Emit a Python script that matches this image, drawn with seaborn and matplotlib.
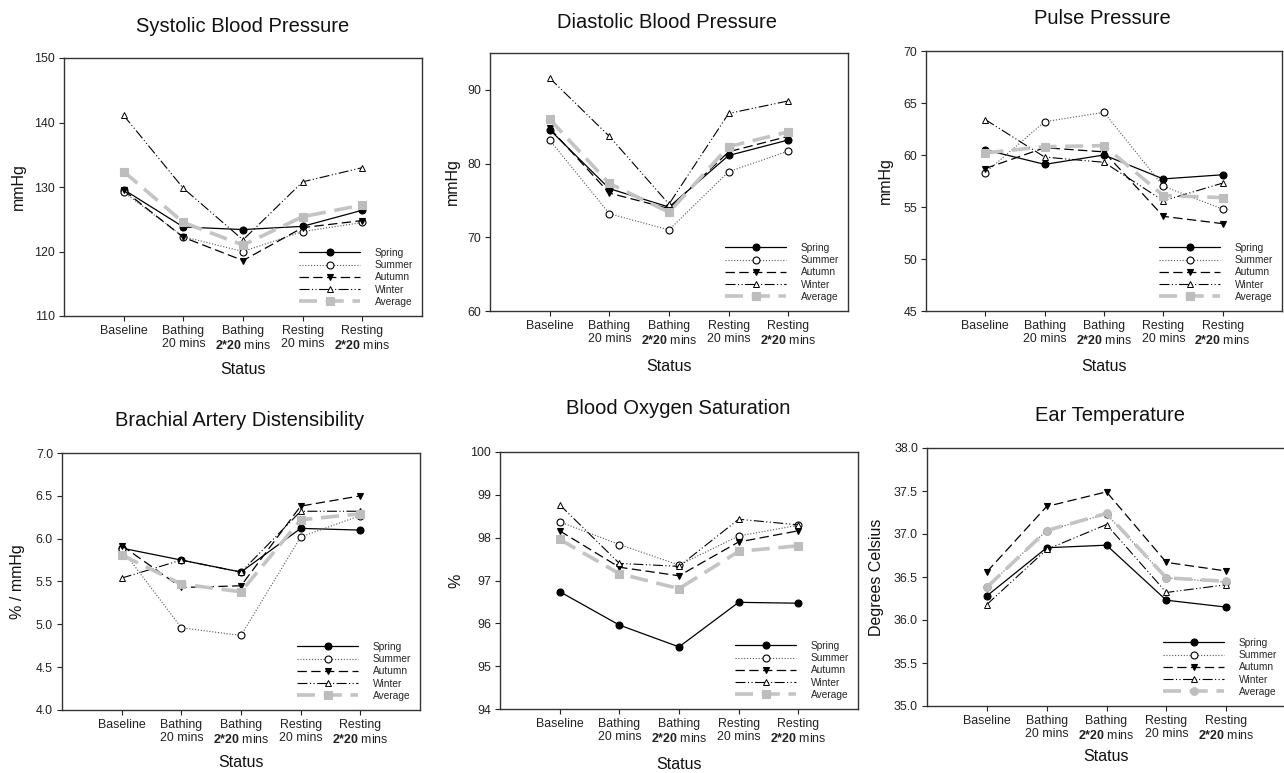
import numpy as np
import pandas as pd
import matplotlib
matplotlib.use("Agg")
import matplotlib.pyplot as plt
import seaborn as sns

sns.set_theme(style="ticks")
plt.rcParams['font.family'] = ['Liberation Sans', 'DejaVu Sans']
plt.rcParams['mathtext.fontset'] = 'custom'
plt.rcParams['mathtext.rm'] = 'Liberation Sans'
plt.rcParams['mathtext.bf'] = 'Liberation Sans:bold'
plt.rcParams['axes.edgecolor'] = '#222222'
plt.rcParams['axes.linewidth'] = 1.0

# ---------------- data ----------------
status_labels = ["Baseline", "Bathing\n20 mins", "Bathing\n$\\mathbf{2{*}20}$ mins",
                 "Resting\n20 mins", "Resting\n$\\mathbf{2{*}20}$ mins"]
seasons = ["Spring", "Summer", "Autumn", "Winter", "Average"]

# Systolic Blood Pressure (mmHg)
sbp_spring = [129.6, 123.8, 123.4, 123.9, 126.4]
sbp_summer = [129.2, 122.3, 120.0, 123.1, 124.5]
sbp_autumn = [129.5, 122.2, 118.6, 123.7, 124.8]
sbp_winter = [141.1, 129.8, 121.8, 130.8, 133.0]
sbp_average = [132.4, 124.5, 121.0, 125.4, 127.2]

# Diastolic Blood Pressure (mmHg)
dbp_spring = [84.6, 76.6, 74.1, 81.1, 83.2]
dbp_summer = [83.2, 73.2, 71.0, 78.9, 81.7]
dbp_autumn = [84.8, 76.0, 73.9, 81.6, 83.7]
dbp_winter = [91.6, 83.7, 74.5, 86.8, 88.5]
dbp_average = [86.0, 77.3, 73.4, 82.3, 84.3]

# Pulse Pressure (mmHg)
pp_spring = [60.5, 59.1, 60.0, 57.7, 58.1]
pp_summer = [58.3, 63.2, 64.1, 57.0, 54.8]
pp_autumn = [58.7, 60.7, 60.3, 54.1, 53.4]
pp_winter = [63.4, 59.8, 59.3, 55.6, 57.3]
pp_average = [60.2, 60.8, 60.9, 56.1, 55.9]

# Brachial Artery Distensibility (% / mmHg)
bad_spring = [5.89, 5.75, 5.61, 6.12, 6.10]
bad_summer = [5.88, 4.96, 4.87, 6.02, 6.27]
bad_autumn = [5.92, 5.43, 5.45, 6.38, 6.50]
bad_winter = [5.54, 5.75, 5.61, 6.32, 6.32]
bad_average = [5.81, 5.47, 5.38, 6.22, 6.29]

# Blood Oxygen Saturation (%)
spo2_spring = [96.74, 95.96, 95.45, 96.49, 96.47]
spo2_summer = [98.37, 97.84, 97.36, 98.04, 98.29]
spo2_autumn = [98.16, 97.31, 97.11, 97.90, 98.16]
spo2_winter = [98.77, 97.40, 97.33, 98.43, 98.30]
spo2_average = [97.96, 97.16, 96.81, 97.68, 97.81]

# Ear Temperature (Degrees Celsius)
ear_spring = [36.28, 36.84, 36.87, 36.23, 36.15]
ear_summer = [36.38, 37.04, 37.23, 36.49, 36.44]
ear_autumn = [36.56, 37.32, 37.49, 36.67, 36.57]
ear_winter = [36.18, 36.82, 37.11, 36.32, 36.41]
ear_average = [36.38, 37.04, 37.24, 36.49, 36.45]

panels = [
    ("Systolic Blood Pressure", "mmHg",
     [sbp_spring, sbp_summer, sbp_autumn, sbp_winter, sbp_average], (110, 150), [110, 120, 130, 140, 150]),
    ("Diastolic Blood Pressure", "mmHg",
     [dbp_spring, dbp_summer, dbp_autumn, dbp_winter, dbp_average], (60, 95), [60, 70, 80, 90]),
    ("Pulse Pressure", "mmHg",
     [pp_spring, pp_summer, pp_autumn, pp_winter, pp_average], (45, 70), [45, 50, 55, 60, 65, 70]),
    ("Brachial Artery Distensibility", "% / mmHg",
     [bad_spring, bad_summer, bad_autumn, bad_winter, bad_average], (4.0, 7.0), [4.0, 4.5, 5.0, 5.5, 6.0, 6.5, 7.0]),
    ("Blood Oxygen Saturation", "%",
     [spo2_spring, spo2_summer, spo2_autumn, spo2_winter, spo2_average], (94, 100), [94, 95, 96, 97, 98, 99, 100]),
    ("Ear Temperature", "Degrees Celsius",
     [ear_spring, ear_summer, ear_autumn, ear_winter, ear_average], (35.0, 38.0), [35.0, 35.5, 36.0, 36.5, 37.0, 37.5, 38.0]),
]

# ---------------- layout (pixels) ----------------
W, H = 1284, 773
# (left, top, right, bottom) of each axes in pixels
boxes = [(64, 58, 422, 316), (490, 53, 848, 311), (926, 51, 1282, 311),
         (62, 453, 420, 710), (500, 452, 858, 709), (927, 448, 1286, 706)]
title_pos = [(243, 27), (667, 23), (1102, 19), (240, 420), (678, 408), (1110, 415)]
ylabel_x = [-0.106, -0.084, -0.093, -0.103, -0.103, -0.120]
xlabel_y = [-0.178, -0.186, -0.186, -0.175, -0.188, -0.165]
avg_markers = ['s', 's', 's', 's', 's', 'o']

styles = {
    "Spring": dict(color='black', linestyle='-', lw=0.9, marker='o', ms=5.0,
                   mfc='black', mec='black', mew=0.8),
    "Summer": dict(color='#555555', linestyle=(0, (1, 1.6)), lw=0.8, marker='o', ms=5.0,
                   mfc='white', mec='black', mew=0.8),
    "Autumn": dict(color='black', linestyle=(0, (7.5, 3.5)), lw=0.9, marker='v', ms=5.0,
                   mfc='black', mec='black', mew=0.8),
    "Winter": dict(color='black', linestyle=(0, (9, 2.2, 1, 2.2, 1, 2.2)), lw=0.8, marker='^', ms=5.0,
                   mfc='white', mec='black', mew=0.7),
    "Average": dict(color='#c4c4c4', linestyle=(0, (5, 2.4)), lw=2.6, marker='s', ms=5.5,
                    mfc='#bdbdbd', mec='#bdbdbd', mew=0.8),
}

fig = plt.figure(figsize=(W / 100, H / 100), dpi=100)
fig.patch.set_facecolor('white')

x_pos = np.arange(len(status_labels))

for i, (title, ylab, series, ylim, yticks) in enumerate(panels):
    l, t, r, b = boxes[i]
    ax = fig.add_axes([l / W, 1 - b / H, (r - l) / W, (b - t) / H])
    ax.set_facecolor('white')
    for season, vals in zip(seasons, series):
        st = dict(styles[season])
        if season == "Average":
            st['marker'] = avg_markers[i]
        df = pd.DataFrame({"Status": x_pos, "Value": vals})
        sns.lineplot(data=df, x="Status", y="Value", ax=ax, label=season,
                     color=st['color'], linestyle=st['linestyle'], linewidth=st['lw'],
                     marker=st['marker'], markersize=st['ms'], markerfacecolor=st['mfc'],
                     markeredgecolor=st['mec'], markeredgewidth=st['mew'],
                     sort=False, legend=False)
    ax.set_xlim(-1, 5)
    ax.set_ylim(*ylim)
    ax.set_yticks(yticks)
    ax.set_xticks(x_pos)
    ax.set_xticklabels(status_labels, fontsize=8.9, linespacing=1.15)
    ax.tick_params(axis='both', direction='out', length=3.5, width=0.8, colors='#222222',
                   labelsize=8.9, pad=3)
    ax.tick_params(axis='x', labelsize=8.9)
    for sp in ax.spines.values():
        sp.set_visible(True)
        sp.set_color('#333333')
        sp.set_linewidth(1.0)
    ax.set_ylabel(ylab, fontsize=11.5, color='#111111')
    ax.yaxis.set_label_coords(ylabel_x[i], 0.5)
    ax.set_xlabel("Status", fontsize=11.5, color='#111111')
    ax.xaxis.set_label_coords(0.5, xlabel_y[i])
    handles = ax.get_lines()[:5]
    ax.legend(handles, seasons, loc='lower right', frameon=False, fontsize=7.3,
              handlelength=6.0, handletextpad=1.4, labelspacing=0.22, numpoints=1,
              borderaxespad=0.5, borderpad=0.4)
    tx, ty = title_pos[i]
    fig.text(tx / W, 1 - ty / H, title, ha='center', va='center', fontsize=14.5, color='#111111')

fig.savefig("out.png", dpi=100, facecolor='white')
